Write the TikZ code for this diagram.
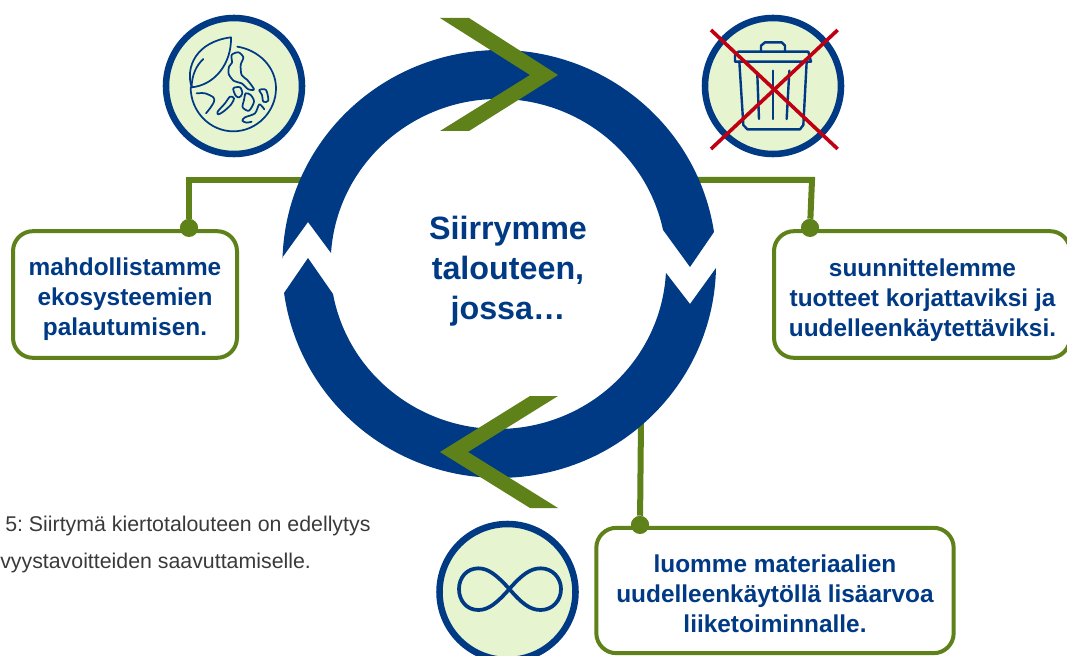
\documentclass[tikz,border=0pt]{standalone}
\usepackage{fontspec}
\setmainfont{Liberation Sans}
\frenchspacing
\definecolor{ringblue}{HTML}{003A84}
\definecolor{leafgreen}{HTML}{5F8119}
\definecolor{palegreen}{HTML}{E6F4D0}
\definecolor{crossred}{HTML}{C00012}
\definecolor{captiongray}{HTML}{3A3A3A}

\begin{document}
\begin{tikzpicture}
[x=0.75pt,y=-0.75pt,%
  greenbox/.style={shape=rectangle,rounded corners=15pt,draw=leafgreen,fill=white,line width=3pt,inner sep=0pt},%
  boxlabel/.style={text=ringblue,align=center,inner sep=0pt,font=\bfseries\fontsize{18.3}{22.5}\selectfont},%
  iconring/.style={shape=circle,draw=ringblue,fill=palegreen,line width=4.9pt,inner sep=0pt,minimum size=102pt},%
  junction/.style={shape=circle,fill=leafgreen,inner sep=0pt,minimum size=13.5pt},%
  link/.style={draw=leafgreen,line width=4.5pt},%
  chevron/.style={fill=leafgreen},%
  iconline/.style={draw=ringblue,line width=1.3pt,line join=round,line cap=round},%
  caption/.style={text=captiongray,anchor=base west,inner sep=0pt,font=\fontsize{16}{19}\selectfont}]
\useasboundingbox (0,0) rectangle (1067,656);
\clip (0,0) rectangle (1067,656);

\coordinate (ringleft) at (305,180);
\coordinate (ringright) at (695,180);
\coordinate (kneeright) at (812,180);
\coordinate (ringbottom) at (641,420);

\node[junction] (dotleft) at (189,228) {};
\node[junction] (dotright) at (810,228) {};
\node[junction] (dotbottom) at (640,525) {};
\draw[link] (ringleft) -| (dotleft);
\draw[link] (ringright) -- (kneeright) -- (dotright);
\draw[link] (ringbottom) -- (dotbottom);

\node[greenbox,minimum width=168pt,minimum height=95pt] (boxleft) at (125,294.5) {};
\node[greenbox,minimum width=222pt,minimum height=95pt] (boxright) at (922,294.5) {};
\node[greenbox,minimum width=268pt,minimum height=94pt] (boxbottom) at (775,590.5) {};
\node[boxlabel] (textleft) at (125,299.5) {mahdollistamme\\ekosysteemien\\palautumisen.};
\node[boxlabel] (textright) at (922.5,300) {suunnittelemme\\tuotteet korjattaviksi ja\\uudelleenkäytettäviksi.};
\node[boxlabel] (textbottom) at (775,593.5) {luomme materiaalien\\uudelleenkäytöllä lisäarvoa\\liiketoiminnalle.};
\node[junction] at (dotleft) {};
\node[junction] at (dotright) {};
\node[junction] at (dotbottom) {};

% ring
\fill[ringblue] (282,258) -- (308,222) -- (331,253)
  arc[start angle=183.8,end angle=348.1,x radius=168,y radius=165]
  -- (690,267) -- (714,232)
  arc[start angle=351.4,end angle=181.6,x radius=217,y radius=214] -- cycle;
\fill[ringblue] (308,258) -- (333,294)
  arc[start angle=169.5,end angle=3.1,x radius=168,y radius=165]
  -- (690,304) -- (716,268)
  arc[start angle=1.1,end angle=172.2,x radius=217,y radius=214] -- cycle;
\fill[chevron] (440,18) -- (469,18) -- (558,75) -- (469,131) -- (440,131) -- (530,75) -- cycle;
\fill[chevron] (530,396) -- (558,396) -- (468,452) -- (558,508) -- (530,508) -- (440,452) -- cycle;

\node[text=ringblue,align=center,inner sep=0pt,font=\bfseries\fontsize{24.2}{30}\selectfont] (title) at (508,271)
  {Siirrymme\\talouteen,\\jossa…};

\node[caption] (captionone) at (5,531) {5: Siirtymä kiertotalouteen on edellytys};
\node[caption] (captiontwo) at (0,568) {vyystavoitteiden saavuttamiselle.};

% globe icon
\node[iconring] (iconglobe) at (234,86) {};
\begin{scope}[shift={(130,0)},scale=1/3]
  \draw[iconline] (322,140) .. controls (385,150) and (438,200) .. (438,265)
    .. controls (438,335) and (380,394) .. (310,394)
    .. controls (240,394) and (182,335) .. (182,262);
  \draw[iconline] (185,262) .. controls (165,200) and (200,125) .. (303,112)
    .. controls (305,190) and (255,255) .. (185,262);
  \draw[iconline] (185,262) .. controls (185,225) and (200,195) .. (220,177);
  \draw[iconline] plot[smooth cycle] coordinates {(305,165) (325,157) (340,172) (332,195)
    (335,225) (352,240) (372,268) (355,268) (335,250) (312,243) (296,222) (297,200) (306,188)};
  \draw[iconline] plot[smooth cycle] coordinates {(310,265) (330,262) (337,280) (328,292) (317,287)};
  \draw[iconline] plot[smooth cycle] coordinates {(347,280) (362,285) (372,305) (357,332) (338,322) (342,300)};
  \draw[iconline] plot[smooth cycle] coordinates {(388,270) (408,270) (415,302) (400,305) (396,285)};
  \draw[iconline] plot[smooth cycle] coordinates {(300,290) (312,295) (303,314) (280,335) (265,343) (263,335) (285,310)};
  \draw[iconline] plot[smooth] coordinates {(200,280) (225,280) (250,292) (252,305) (240,325) (228,340)};
  \draw[iconline] plot[smooth] coordinates {(403,328) (388,313) (375,340) (345,352) (337,362) (350,368) (365,365)};
\end{scope}

% bin icon
\node[iconring] (iconbin) at (773,86) {};
\begin{scope}[shift={(670,0)},scale=1/3]
  \draw[iconline,line width=1.8pt] (195,185) -- (195,165) -- (205,155) -- (415,155) -- (423,185) -- cycle;
  \draw[iconline,line width=1.8pt] (273,155) -- (273,137) -- (285,127) -- (335,127) -- (345,137) -- (345,155);
  \draw[iconline,line width=1.8pt] (208,185) -- (220,375) -- (232,388) -- (390,388) -- (400,375) -- (410,185);
  \draw[iconline,line width=1.8pt] (262,225) -- (267,357);
  \draw[iconline,line width=1.8pt] (309,212) -- (309,357);
  \draw[iconline,line width=1.8pt] (358,212) -- (350,357);
  \draw[crossred,line width=2.7pt] (123,90) -- (503,447);
  \draw[crossred,line width=2.7pt] (503,90) -- (123,447);
\end{scope}

% infinity icon
\node[iconring] (iconloop) at (507.5,592) {};
\begin{scope}[shift={(420,510)},scale=1/3]
  \draw[iconline,line width=2.8pt] (268,237) .. controls (230,195) and (205,175) .. (175,175)
    .. controls (140,175) and (117,203) .. (117,237)
    .. controls (117,272) and (140,300) .. (175,300)
    .. controls (205,300) and (230,280) .. (268,237)
    .. controls (305,195) and (330,175) .. (362,175)
    .. controls (397,175) and (423,203) .. (423,237)
    .. controls (423,272) and (397,300) .. (362,300)
    .. controls (330,300) and (305,280) .. (268,237) -- cycle;
\end{scope}
\end{tikzpicture}
\end{document}
